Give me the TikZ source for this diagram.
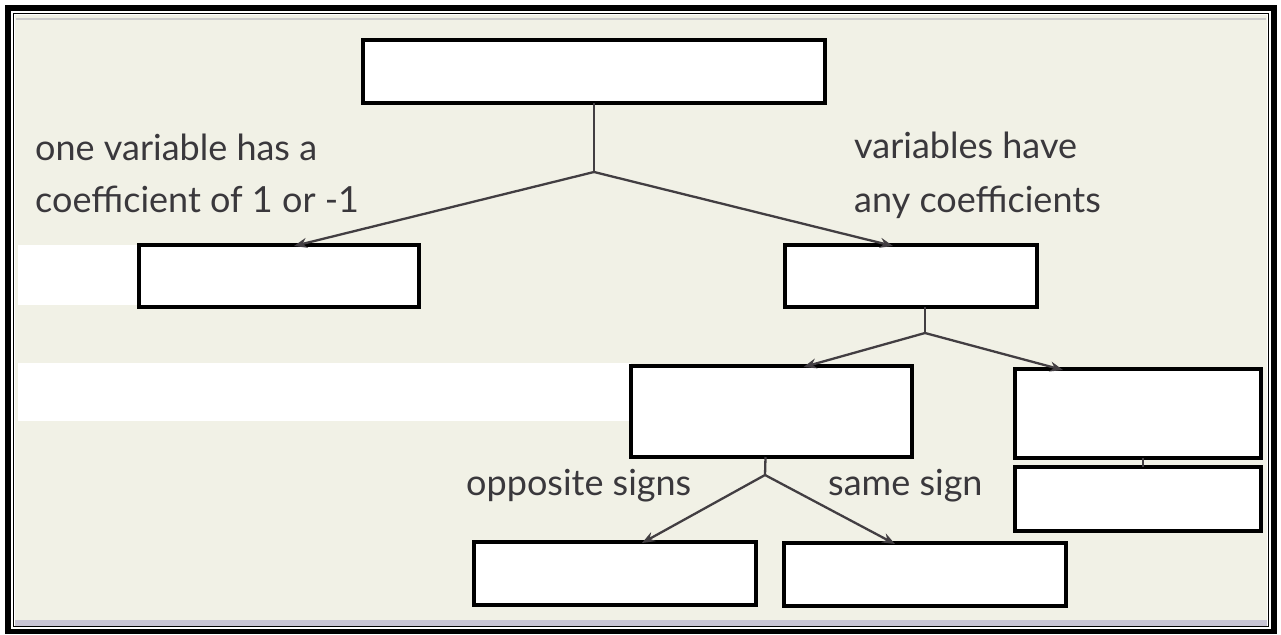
\documentclass[tikz,border=0pt]{standalone}
\usepackage{fontspec}
\setmainfont{Lato}
\usetikzlibrary{arrows.meta}
\definecolor{paper}{RGB}{241,241,230}
\definecolor{ink}{RGB}{66,62,66}
\definecolor{txt}{RGB}{58,56,60}
\definecolor{band}{RGB}{200,196,212}
\tikzset{
  blank/.style={draw=black, fill=white, line width=3.2pt, inner sep=0pt, outer sep=0pt, anchor=north west},
  conn/.style={draw=ink, line width=2.3pt},
  arr/.style={conn, -{Stealth[length=13pt,width=10pt]}},
  lbl/.style={text=txt, inner sep=0pt, anchor=base west, font=\fontsize{36}{42}\selectfont}
}
\begin{document}
\begin{tikzpicture}[x=1pt,y=-1pt]
\useasboundingbox (0,0) rectangle (1281,634);
% frame
\fill[white] (0,0) rectangle (1281,634);
\fill[black] (5,5) rectangle (1277,634);
\fill[white] (11,11) rectangle (1271,629);
\draw[black, line width=1.3pt] (13.5,13.5) rectangle (1268.5,626.5);
\fill[paper] (15,15) rectangle (1267,626);
\fill[band] (15,620) rectangle (1267,626);
\draw[gray!40, line width=1.5pt] (16,19) -- (1266,19);
% white patches
\fill[white] (18,245) rectangle (139,305);
\fill[white] (18,363) rectangle (631,421);
% boxes
\node[blank, minimum width=462pt, minimum height=63pt] (top) at (363,40) {};
\node[blank, minimum width=280pt, minimum height=62pt] (L) at (139,245) {};
\node[blank, minimum width=252pt, minimum height=62pt] (R) at (785,245) {};
\node[blank, minimum width=281pt, minimum height=91pt] (M) at (631,366) {};
\node[blank, minimum width=246pt, minimum height=89pt] (R1) at (1015,369) {};
\node[blank, minimum width=246pt, minimum height=64pt] (R2) at (1015,467) {};
\node[blank, minimum width=282pt, minimum height=63pt] (BL) at (474,542) {};
\node[blank, minimum width=282pt, minimum height=63pt] (BR) at (784,543) {};
% junctions
\coordinate (j1) at (594,172);
\coordinate (j2) at (925,333);
\coordinate (j3) at (765,475);
% connectors
\draw[conn] (top.south) -- (j1);
\draw[arr] (j1) -- ([xshift=15pt,yshift=-1pt]L.north);
\draw[arr] (j1) -- ([xshift=-18pt,yshift=-1pt]R.north);
\draw[conn] ([xshift=14pt]R.south) -- (j2);
\draw[arr] (j2) -- ([xshift=32pt,yshift=-1pt]M.north);
\draw[arr] (j2) -- ([xshift=-75pt,yshift=-1pt]R1.north);
\draw[conn] ([xshift=-6pt]M.south) -- (j3);
\draw[arr] (j3) -- ([xshift=27pt,yshift=-1pt]BL.north);
\draw[arr] (j3) -- ([xshift=-30pt,yshift=-1pt]BR.north);
\draw[conn] ([xshift=5pt]R1.south) -- ([xshift=5pt]R2.north);
% labels
\node[lbl] (t1) at (35,160) {one variable has a};
\node[lbl] (t2) at (35,212) {coefficient of 1 or -1};
\node[lbl] (t3) at (854,158) {variables have};
\node[lbl] (t4) at (854,212) {any coefficients};
\node[lbl] (t5) at (466,495) {opposite signs};
\node[lbl] (t6) at (828,495) {same sign};
\end{tikzpicture}
\end{document}
